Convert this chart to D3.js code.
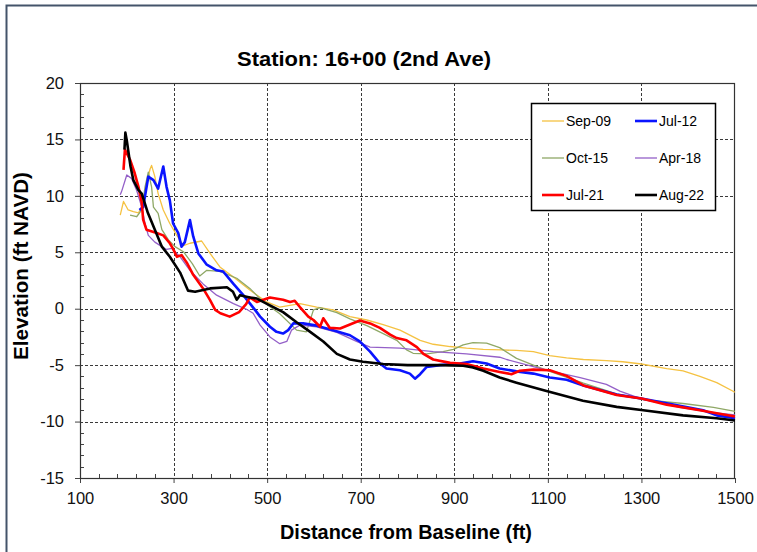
<!DOCTYPE html>
<html>
<head>
<meta charset="utf-8">
<title>Station 16+00</title>
<script src="https://d3js.org/d3.v7.min.js"></script>
<style>
  body { margin: 0; background: #fff; }
  svg { display: block; font-family: "Liberation Sans", Arial, sans-serif; }
</style>
</head>
<body>
<svg id="chart"></svg>
<script>
// survey profiles: [distance ft, elevation ft NAVD]
var sep09 = [[186,8.3],[193,9.5],[203,8.75],[214,8.6],[225,8.5],[232,9.0],[242,11.1],[250,12.4],[253,12.7],[260,11.7],[267,10.2],[278,8.75],[292,7.55],[307,6.5],[321,5.6],[335,5.8],[360,6.0],[378,4.9],[399,3.7],[428,2.8],[463,1.65],[499,0.6],[527,0.15],[570,0.45],[606,0.15],[641,-0.1],[677,-0.7],[713,-1.0],[748,-1.4],[784,-1.9],[827,-2.8],[855,-3.15],[891,-3.35],[926,-3.5],[962,-3.6],[1000,-3.65],[1033,-3.7],[1069,-3.8],[1104,-4.15],[1140,-4.35],[1176,-4.5],[1225,-4.6],[1260,-4.7],[1300,-4.9],[1354,-5.3],[1389,-5.5],[1425,-6.0],[1461,-6.55],[1500,-7.4]];
var oct15 = [[207,8.3],[221,8.15],[232,8.75],[239,10.8],[246,12.1],[253,10.8],[257,9.0],[267,8.45],[275,7.0],[289,6.1],[303,5.5],[321,5.05],[340,4.0],[356,2.9],[371,3.4],[399,3.3],[435,2.7],[463,1.8],[492,0.6],[527,-0.45],[563,-1.9],[584,-2.05],[599,-0.1],[613,0.1],[649,-0.35],[677,-0.9],[713,-1.5],[748,-2.2],[777,-2.8],[798,-3.65],[812,-3.95],[841,-4.0],[876,-3.8],[898,-3.6],[919,-3.2],[940,-3.0],[969,-3.05],[997,-3.45],[1033,-4.4],[1069,-5.0],[1104,-5.55],[1176,-6.6],[1247,-7.55],[1304,-8.05],[1389,-8.4],[1454,-8.75],[1500,-9.1]];
var jul12 = [[227,8.75],[235,9.0],[246,11.7],[257,11.4],[267,10.65],[278,12.6],[285,10.8],[292,9.6],[299,7.55],[310,6.7],[317,5.5],[324,5.9],[335,7.85],[342,6.4],[353,4.9],[371,3.9],[392,3.4],[406,3.3],[428,2.2],[449,1.2],[474,-0.1],[485,-0.7],[506,-1.6],[520,-2.05],[534,-2.2],[545,-1.9],[556,-1.3],[577,-1.3],[606,-1.5],[641,-1.9],[677,-2.35],[698,-2.9],[720,-3.8],[741,-4.85],[755,-5.3],[784,-5.45],[805,-5.75],[816,-6.2],[827,-5.8],[841,-5.15],[869,-5.0],[912,-4.85],[940,-4.65],[969,-4.85],[997,-5.3],[1033,-5.55],[1069,-5.75],[1104,-6.1],[1140,-6.3],[1176,-6.8],[1247,-7.6],[1300,-7.95],[1368,-8.5],[1432,-9.0],[1461,-9.45],[1500,-9.7]];
var apr18 = [[186,10.1],[189,10.4],[200,11.85],[210,11.55],[221,10.5],[232,9.0],[239,7.55],[246,6.5],[260,5.9],[275,5.5],[285,5.25],[296,5.35],[314,4.6],[335,3.4],[363,2.2],[392,1.2],[428,0.45],[456,-0.05],[470,-0.4],[485,-1.45],[506,-2.5],[527,-3.1],[542,-2.9],[552,-1.9],[570,-1.45],[606,-1.6],[649,-2.1],[691,-2.9],[720,-3.4],[784,-3.5],[855,-3.8],[926,-4.0],[997,-4.3],[1012,-4.5],[1097,-5.45],[1169,-6.1],[1225,-6.7],[1254,-7.3],[1297,-7.95],[1382,-8.75],[1454,-9.2],[1500,-9.4]];
var jul21 = [[193,12.3],[196,14.1],[207,13.2],[217,12.0],[225,10.8],[232,9.4],[235,7.9],[242,7.0],[264,6.7],[278,6.5],[292,5.8],[299,5.3],[307,4.6],[317,4.75],[328,4.1],[342,3.0],[363,1.8],[378,0.76],[389,-0.1],[400,-0.4],[420,-0.7],[440,-0.3],[455,0.4],[463,1.0],[478,0.6],[506,1.0],[534,0.8],[549,0.6],[559,0.7],[570,0.15],[588,-0.7],[599,-1.0],[613,-1.6],[620,-0.85],[634,-1.7],[656,-1.75],[677,-1.4],[698,-1.05],[720,-1.3],[741,-1.7],[763,-2.3],[777,-2.6],[798,-2.8],[820,-3.4],[834,-4.0],[855,-4.5],[891,-4.8],[926,-4.9],[962,-5.3],[997,-5.6],[1022,-5.8],[1040,-5.5],[1069,-5.4],[1104,-5.45],[1140,-5.95],[1176,-6.8],[1247,-7.65],[1300,-7.95],[1354,-8.5],[1425,-9.0],[1500,-9.55]];
var aug22 = [[195,14.1],[197,15.6],[200,14.9],[208,12.6],[214,11.4],[225,10.5],[232,10.2],[245,8.5],[260,7.0],[275,5.5],[292,4.6],[314,3.2],[331,1.6],[346,1.5],[378,1.8],[414,1.9],[427,1.5],[435,0.8],[442,1.2],[463,1.0],[478,0.9],[506,0.3],[534,-0.3],[563,-1.2],[592,-2.05],[620,-2.9],[649,-4.0],[677,-4.5],[705,-4.7],[748,-4.9],[800,-5.0],[870,-5.0],[919,-5.05],[940,-5.2],[962,-5.5],[997,-6.1],[1033,-6.55],[1097,-7.3],[1175,-8.15],[1247,-8.7],[1304,-9.0],[1389,-9.45],[1461,-9.7],[1500,-9.9]];

var seriesNames = ["Sep-09", "Jul-12", "Oct-15", "Apr-18", "Jul-21", "Aug-22"];
var xTicks = [100, 300, 500, 700, 900, 1100, 1300, 1500];
var yTicks = [20, 15, 10, 5, 0, -5, -10, -15];

var series = [
  {name: "Sep-09", data: sep09, color: "#f5c242", w: 1.3},
  {name: "Oct-15", data: oct15, color: "#8fa866", w: 1.3},
  {name: "Apr-18", data: apr18, color: "#9460c8", w: 1.3},
  {name: "Jul-12", data: jul12, color: "#0a14ff", w: 2.6},
  {name: "Jul-21", data: jul21, color: "#ff0000", w: 2.6},
  {name: "Aug-22", data: aug22, color: "#000000", w: 2.6}
];

var width = 757, height = 552;
var pLeft = 80, pRight = 735, pTop = 83, pBottom = 478;

var svg = d3.select('#chart').attr('width', width).attr('height', height);

// outer frame (left and top edges visible)
svg.append('path')
  .attr('d', 'M6.5,552V5.5H757')
  .attr('fill', 'none').attr('stroke', '#44546a').attr('stroke-width', 2);

var x = d3.scaleLinear().domain([100, 1500]).range([pLeft, pRight]);
var y = d3.scaleLinear().domain([-15, 20]).range([pBottom, pTop]);
var fmt = d => String(d); // plain hyphen for negatives

// grid
var grid = svg.append('g').attr('stroke', '#3a3a3a').attr('stroke-dasharray', '3,2').attr('stroke-width', 1);
grid.selectAll('.vg').data(xTicks.slice(1, -1)).enter().append('line')
  .attr('x1', d => Math.round(x(d)) + 0.5).attr('x2', d => Math.round(x(d)) + 0.5)
  .attr('y1', pTop).attr('y2', pBottom);
grid.selectAll('.hg').data(yTicks.slice(1, -1)).enter().append('line')
  .attr('y1', d => Math.round(y(d)) + 0.5).attr('y2', d => Math.round(y(d)) + 0.5)
  .attr('x1', pLeft).attr('x2', pRight);

// minor ticks (inside)
var minor = svg.append('g').attr('stroke', '#444').attr('stroke-width', 1);
minor.selectAll('.mx').data(d3.range(140, 1500, 40).filter(v => (v - 100) % 200 !== 0)).enter().append('line')
  .attr('x1', d => Math.round(x(d)) + 0.5).attr('x2', d => Math.round(x(d)) + 0.5)
  .attr('y1', pBottom).attr('y2', pBottom - 4);
minor.selectAll('.my').data(d3.range(-14, 20, 1).filter(v => v % 5 !== 0)).enter().append('line')
  .attr('y1', d => Math.round(y(d)) + 0.5).attr('y2', d => Math.round(y(d)) + 0.5)
  .attr('x1', pLeft).attr('x2', pLeft + 4);

// axes
var xAxis = d3.axisBottom(x).tickValues(xTicks).tickSize(5).tickPadding(6).tickFormat(fmt);
var yAxis = d3.axisLeft(y).tickValues(yTicks).tickSize(5).tickPadding(11).tickFormat(fmt);
var gx = svg.append('g').attr('transform', 'translate(0,' + pBottom + ')').call(xAxis);
var gy = svg.append('g').attr('transform', 'translate(' + pLeft + ',0)').call(yAxis);
[gx, gy].forEach(function (g) {
  g.select('.domain').remove();
  g.selectAll('line').attr('stroke', '#444');
  g.selectAll('text').attr('fill', '#111').style('font-size', '16.5px')
    .style('font-family', '"Liberation Sans", Arial, sans-serif');
});
gx.selectAll('text').attr('dy', '0.9em');

// plot border
svg.append('rect')
  .attr('x', pLeft + 0.5).attr('y', pTop + 0.5)
  .attr('width', pRight - pLeft - 1).attr('height', pBottom - pTop)
  .attr('fill', 'none').attr('stroke', '#333').attr('stroke-width', 1.2);

// lines
var line = d3.line().x(d => x(d[0])).y(d => y(d[1]));
svg.append('g').selectAll('path').data(series).enter().append('path')
  .attr('d', d => line(d.data))
  .attr('fill', 'none')
  .attr('stroke', d => d.color)
  .attr('stroke-width', d => d.w)
  .attr('stroke-linejoin', 'round');

// title and axis labels
svg.append('text').attr('x', 364).attr('y', 66).attr('text-anchor', 'middle')
  .style('font-size', '21px').style('font-weight', 'bold')
  .attr('textLength', 254).attr('lengthAdjust', 'spacingAndGlyphs')
  .text('Station: 16+00 (2nd Ave)');
svg.append('text').attr('x', 406).attr('y', 539).attr('text-anchor', 'middle')
  .style('font-size', '20px').style('font-weight', 'bold')
  .attr('textLength', 252).attr('lengthAdjust', 'spacingAndGlyphs')
  .text('Distance from Baseline (ft)');
svg.append('text').attr('transform', 'translate(28,266) rotate(-90)').attr('text-anchor', 'middle')
  .style('font-size', '20px').style('font-weight', 'bold')
  .attr('textLength', 188).attr('lengthAdjust', 'spacingAndGlyphs')
  .text('Elevation (ft NAVD)');

// legend
var byName = {};
series.forEach(s => byName[s.name] = s);
var legend = svg.append('g');
legend.append('rect').attr('x', 531.5).attr('y', 103.5).attr('width', 184).attr('height', 107)
  .attr('fill', '#fff').attr('stroke', '#000').attr('stroke-width', 1.5);
var items = legend.selectAll('g.item').data(seriesNames).enter().append('g')
  .attr('transform', (d, i) => 'translate(' + (i % 2 === 0 ? 542 : 635) + ',' + (121 + Math.floor(i / 2) * 37) + ')');
items.append('line').attr('x1', 0).attr('x2', 22).attr('y1', 0).attr('y2', 0)
  .attr('stroke', d => byName[d].color).attr('stroke-width', d => byName[d].w);
items.append('text').attr('x', 24).attr('y', 5).style('font-size', '14px').text(d => d);
</script>
</body>
</html>
